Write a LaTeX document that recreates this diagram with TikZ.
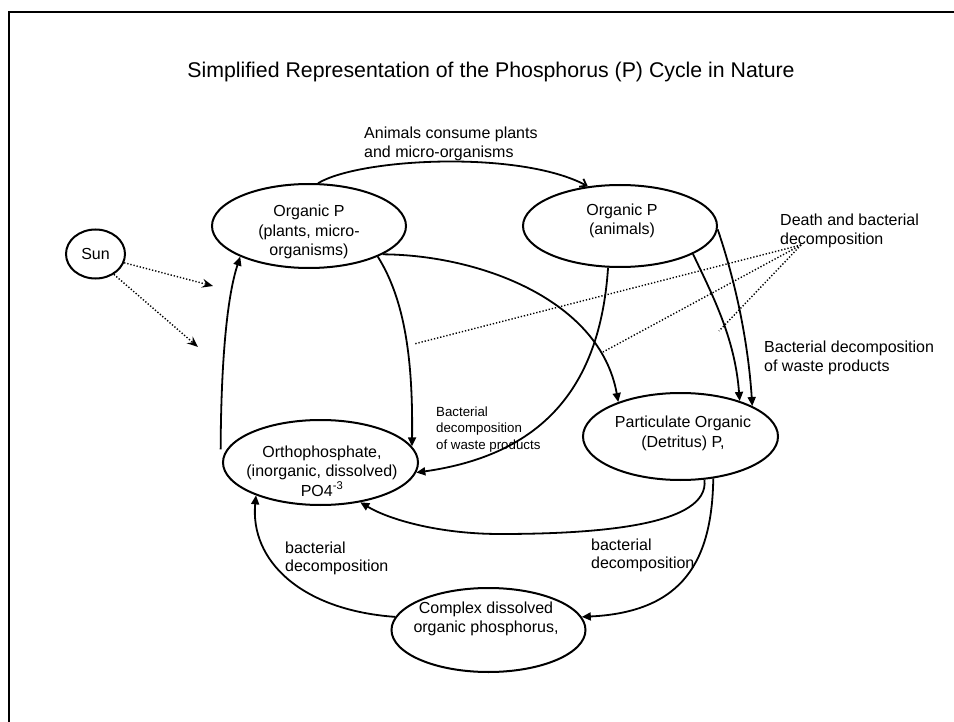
\documentclass[tikz,border=0pt]{standalone}
\usepackage{fontspec}
\setmainfont{Liberation Sans}
\usetikzlibrary{shapes.geometric,arrows.meta}
\begin{document}
\begin{tikzpicture}[x=1pt,y=-1pt,
  oval/.style={draw,ellipse,line width=2pt,inner sep=0pt},
  txt/.style={align=center,inner sep=0pt,font=\fontsize{16}{19.5}\selectfont},
  lbl/.style={align=left,anchor=west,inner sep=0pt,font=\fontsize{16}{18.5}\selectfont},
  flow/.style={line width=1.8pt,-{Triangle[length=9pt,width=8pt]}},
  dots/.style={line width=1.4pt,dash pattern=on 1.3pt off 1.9pt},
  sunarrow/.style={dots,-{Stealth[length=11pt,width=9pt,inset=4pt]}}]
\useasboundingbox (0,0) rectangle (954,722);
% frame
\draw[line width=2pt] (9,722) -- (9,12) -- (954,12);
% title
\node[inner sep=0pt,font=\fontsize{21.3}{25}\selectfont] (title) at (491,72)
  {Simplified Representation of the Phosphorus (P) Cycle in Nature};
% ellipses
\node[oval,minimum width=194pt,minimum height=84pt] (plants) at (309,226) {};
\node[oval,minimum width=194pt,minimum height=82pt] (animals) at (620,226) {};
\node[oval,minimum width=195pt,minimum height=85pt] (ortho) at (320.5,462.5) {};
\node[oval,minimum width=195pt,minimum height=87pt] (partic) at (680.5,436.5) {};
\node[oval,minimum width=194pt,minimum height=84pt] (complex) at (488.5,630) {};
\node[oval,minimum width=59pt,minimum height=49pt] (sun) at (95.5,254) {};
% node texts
\node[txt] (plantsT) at (309,232) {Organic P\\(plants, micro-\\organisms)};
\node[txt] (animalsT) at (622,221) {Organic P\\(animals)};
\node[txt] (orthoT) at (322,471) {Orthophosphate,\\(inorganic, dissolved)\\PO4\textsuperscript{-3}};
\node[txt] (particT) at (683,433.5) {Particulate Organic\\(Detritus) P,};
\node[txt] (complexT) at (486,619) {Complex dissolved\\organic phosphorus,};
\node[txt] (sunT) at (95.5,254) {Sun};
% labels
\node[lbl] (l1) at (364,144) {Animals consume plants\\and micro-organisms};
\node[lbl] (l2) at (780,231) {Death and bacterial\\decomposition};
\node[lbl] (l3) at (764,358) {Bacterial decomposition\\of waste products};
\node[lbl,font=\fontsize{13.3}{16.5}\selectfont] (l4) at (436,429.5) {Bacterial\\decomposition\\of waste products};
\node[lbl] (l5) at (591,555.5) {bacterial\\decomposition};
\node[lbl] (l6) at (285,558.5) {bacterial\\decomposition};
% connectors
\draw[line width=1.8pt,-{Straight Barb[length=6pt,width=9pt]}] (plants.78) .. controls (360,158) and (520,150) .. (animals.129);
\draw[flow] ([xshift=-6pt]ortho.172) .. controls (221,370) and (226,300) .. (plants.204);
\draw[flow] (plants.-24) .. controls (405,300) and (413,360) .. (ortho.10);
\draw[flow] (plants.-21) .. controls (480,255) and (600,300) .. (partic.151);
\draw[flow] (animals.-106) .. controls (600,390) and (540,455) .. (ortho.-6);
\draw[flow] (animals.-21) .. controls (715,300) and (735,340) .. (partic.31.5);
\draw[flow] (animals.-2.5) .. controls (735,280) and (748,340) .. (partic.23);
\draw[flow] (partic.-61) .. controls (710,525) and (600,534) .. (500,534) .. controls (440,534) and (390,520) .. (ortho.-45);
\draw[flow] (partic.-52) .. controls (712,560) and (684,612) .. (complex.8);
\draw[flow] (complex.172) .. controls (300,610) and (250,560) .. (ortho.207);
% sun rays
\coordinate (sa) at (213,286);
\coordinate (sb) at (198,347);
\draw[sunarrow] (sun.-17) -- (sa);
\draw[sunarrow] (sun.-48) -- (sb);
% death leaders
\coordinate (dd) at (801,245);
\coordinate (d1) at (414,344);
\coordinate (d2) at (603,352);
\coordinate (d3) at (719,331);
\draw[dots] (dd) -- (d1);
\draw[dots] (dd) -- (d2);
\draw[dots] (dd) -- (d3);
\end{tikzpicture}
\end{document}
